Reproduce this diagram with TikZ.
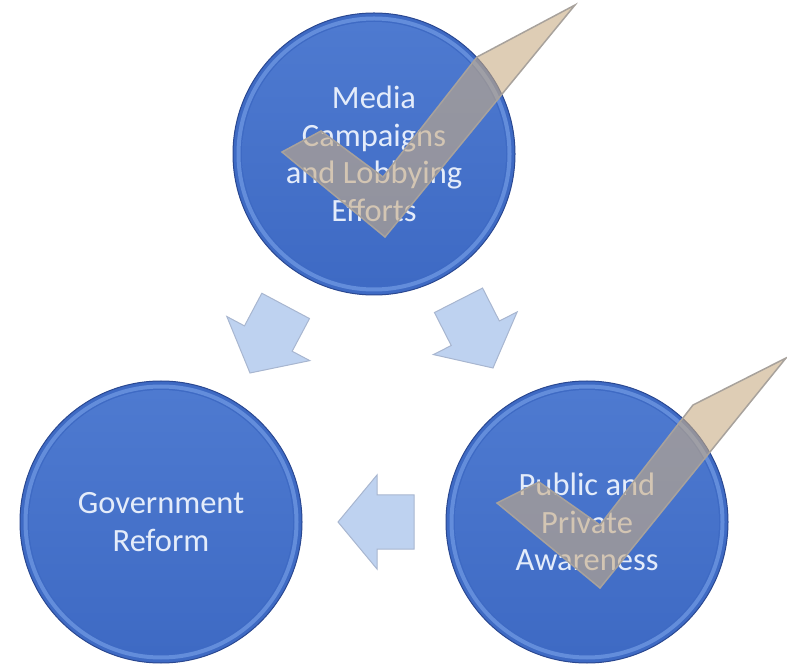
\documentclass[tikz,border=0pt]{standalone}
\usepackage{fontspec}
\setmainfont{Carlito}
\definecolor{cblue}{RGB}{62,106,196}
\definecolor{cbluetop}{RGB}{78,122,208}
\definecolor{cedge}{RGB}{42,72,145}
\definecolor{crim}{RGB}{130,170,238}
\definecolor{ctext}{RGB}{228,236,250}
\definecolor{chkfill}{RGB}{200,172,132}
\definecolor{chkline}{RGB}{168,162,156}
\definecolor{arrfill}{RGB}{190,210,240}
\definecolor{arrline}{RGB}{168,182,208}
\tikzset{
  disc/.style={circle, minimum size=282pt, inner sep=0pt, fill=cblue, draw=cedge, line width=1pt},
  disctext/.style={text=ctext, align=center, font=\fontsize{32.5}{37.5}\selectfont},
  checkmark/.style={fill=chkfill, fill opacity=0.6, draw=chkline, line width=1.5pt, line join=miter},
  blockarrow/.style={fill=arrfill, draw=arrline, line width=1pt, line join=miter}
}
\newcommand{\arrowshape}{(0,0) -- (-39,47) -- (-39,27) -- (-76,27) -- (-76,-27) -- (-39,-27) -- (-39,-47) -- cycle}
\begin{document}
\begin{tikzpicture}[x=1pt,y=1pt]
\useasboundingbox (0,0) rectangle (787,667);
% discs
\foreach \nm/\cx/\cy in {media/374/513, gov/161/145, pub/587/145}{
  \node[disc] (\nm) at (\cx,\cy) {};
  \shade[top color=cbluetop, bottom color=cblue] (\cx,\cy) circle (132);
  \draw[crim, line width=4pt, opacity=0.55] (\cx,\cy) circle (135.5);
}
\node[disctext] (mediat) at (media) {Media\\Campaigns\\and Lobbying\\Efforts};
\node[disctext] (govt) at (gov) {Government\\Reform};
\node[disctext] (pubt) at (pub) {Public and\\Private\\Awareness};
% block arrows
\coordinate (a1) at (250,294);
\coordinate (a2) at (493,299);
\coordinate (a3) at (338,145);
\begin{scope}[shift={(a1)}, rotate=242]
  \draw[blockarrow] \arrowshape;
\end{scope}
\begin{scope}[shift={(a2)}, rotate=297]
  \draw[blockarrow] \arrowshape;
\end{scope}
\begin{scope}[shift={(a3)}, rotate=180]
  \draw[blockarrow] \arrowshape;
\end{scope}
% check marks
\draw[checkmark] (282,515) -- (321,536) -- (383,490) -- (477,610) -- (575,662) -- (385,430) -- cycle;
\draw[checkmark] (497,164) -- (539,185) -- (600,142) -- (693,262) -- (786,309) -- (600,79) -- cycle;
\end{tikzpicture}
\end{document}
